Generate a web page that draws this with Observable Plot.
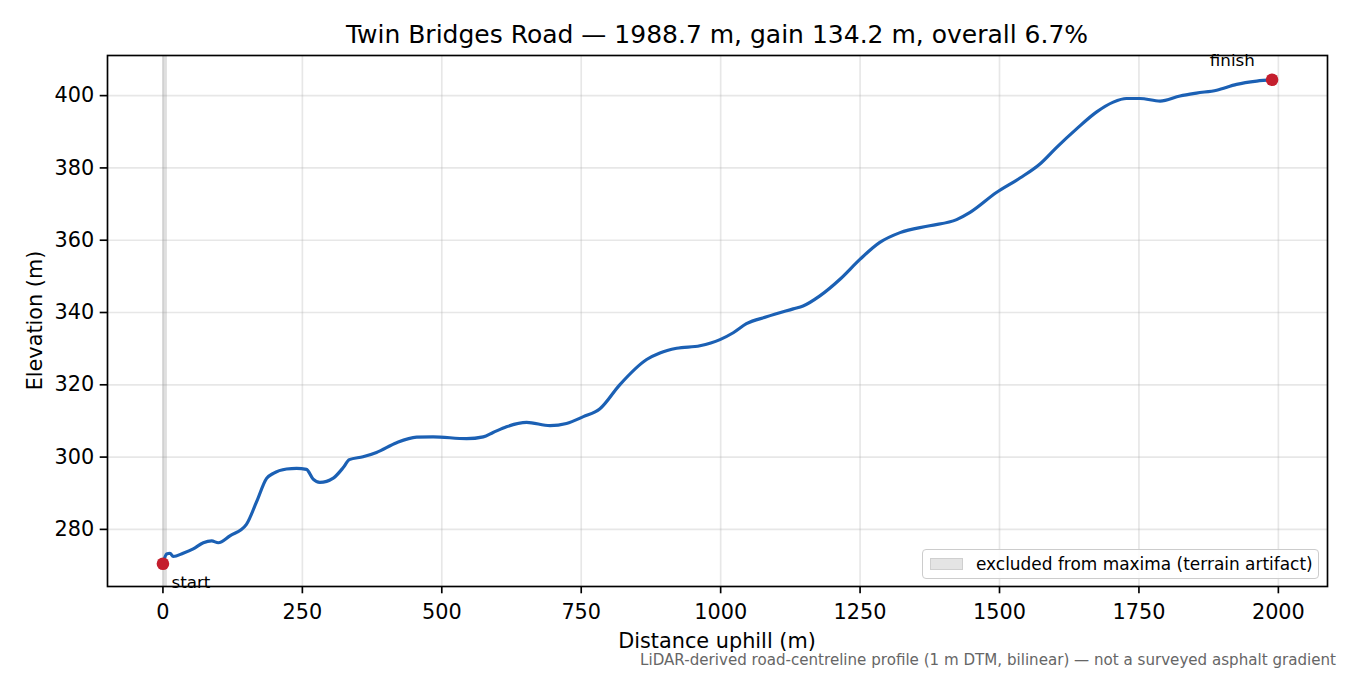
<!DOCTYPE html>
<html>
<head>
<meta charset="utf-8">
<script src="https://cdn.jsdelivr.net/npm/d3@7"></script>
<script src="https://cdn.jsdelivr.net/npm/@observablehq/plot@0.6"></script>
<style>
  html, body { margin: 0; padding: 0; background: #fff; }
  #wrap { position: relative; width: 1350px; height: 675px; font-family: "DejaVu Sans", sans-serif; }
  #legend { position: absolute; left: 922px; top: 549px; width: 397px; height: 30px; box-sizing: border-box;
            border: 1px solid #cccccc; border-radius: 4px; background: rgba(255,255,255,0.85);
            display: flex; align-items: center; font-size: 16.95px; color: #000; }
  #legend .sw { width: 33px; height: 12px; margin-left: 7px; margin-right: 13px; box-sizing: border-box;
                background: #e4e4e4; border: 1px solid #cfcfcf; flex: none; }
  #legend span { white-space: nowrap; }
</style>
</head>
<body>
<div id="wrap"></div>
<script>
// ---- data ----
const distance = [0, 6.6, 12.6, 18.5, 36.2, 54.3, 72.4, 87.4, 99.2, 120.1, 149.7, 167.8, 185.9, 198, 221.7, 239.7,
  257.3, 269.3, 281.4, 305.5, 323.3, 334.2, 358.8, 382.9, 419.1, 454.9, 484.4, 544.5, 574.4, 592, 616, 652.2,
  694, 723.6, 753.8, 783.6, 819, 867.3, 891.1, 921.1, 962.8, 998.8, 1022.6, 1046.2, 1082.4, 1130.1, 1147.7,
  1177.9, 1214, 1249.7, 1285.4, 1321.6, 1374.8, 1423.1, 1447.2, 1494.4, 1536.6, 1572.5, 1602.5, 1638.2,
  1674.3, 1704, 1727.6, 1751.7, 1787.9, 1823.6, 1853.2, 1889.4, 1925.1, 1961.3, 1988.7];
const elevation = [270.5, 273.2, 273.4, 272.5, 273.4, 274.6, 276.3, 276.8, 276.3, 278.2, 281.4, 287.6, 294.1, 295.5,
  296.7, 296.9, 296.6, 293.9, 293.0, 294.2, 297.1, 299.3, 300.1, 301.3, 304.0, 305.5, 305.6, 305.1, 305.6, 306.8,
  308.4, 309.6, 308.7, 309.3, 311.2, 313.4, 320.0, 327.0, 328.8, 330.1, 330.8, 332.5, 334.4, 336.9, 338.8, 341.0,
  341.8, 344.6, 349.2, 354.7, 359.4, 362.1, 364.0, 365.7, 367.7, 373.2, 377.2, 381.1, 385.7, 390.8, 395.5, 398.2,
  399.2, 399.2, 398.5, 399.9, 400.7, 401.5, 403.1, 404.0, 404.4];
const excludedFrom = [0];
const excludedTo = [8];
const endLabels = ["start", "finish"];
const xTicks = [0, 250, 500, 750, 1000, 1250, 1500, 1750, 2000];
const yTicks = [280, 300, 320, 340, 360, 380, 400];
const titleText = "Twin Bridges Road — 1988.7 m, gain 134.2 m, overall 6.7%";
const xLabel = "Distance uphill (m)";
const yLabel = "Elevation (m)";
const captionText = "LiDAR-derived road-centreline profile (1 m DTM, bilinear) — not a surveyed asphalt gradient";
const legendText = "excluded from maxima (terrain artifact)";

// ---- tables built from the arrays ----
const profile = distance.map((d, i) => ({d, e: elevation[i]}));
const excluded = excludedFrom.map((a, i) => ({a, b: excludedTo[i]}));
const n = distance.length - 1;
const startPt = [{d: distance[0], e: elevation[0], label: endLabels[0]}];
const finishPt = [{d: distance[n], e: elevation[n], label: endLabels[1]}];

const W = 1350, H = 675, ML = 107, MR = 23, MT = 55, MB = 89;
const gridStyle = {stroke: "#b0b0b0", strokeOpacity: 0.3, strokeWidth: 1.67};
const lineColor = "#1b60b4";
const dotColor = "#c41e2d";

const chart = Plot.plot({
  width: W, height: H,
  marginLeft: ML, marginRight: MR, marginTop: MT, marginBottom: MB,
  style: {fontFamily: "'DejaVu Sans', sans-serif", fontSize: "20.8px", color: "#000", background: "#fff"},
  x: {domain: [-99.4, 2088.1]},
  y: {domain: [264.2, 411.1]},
  marks: [
    Plot.gridX(xTicks, gridStyle),
    Plot.gridY(yTicks, gridStyle),
    Plot.rect(excluded, {x1: "a", x2: "b", fill: "#808080", fillOpacity: 0.25}),
    Plot.line(profile, {x: "d", y: "e", stroke: lineColor, strokeWidth: 3.2, curve: "monotone-x"}),
    Plot.dot([...startPt, ...finishPt], {x: "d", y: "e", r: 6.3, fill: dotColor}),
    Plot.text(startPt, {x: "d", y: "e", text: "label", textAnchor: "start", lineAnchor: "middle",
      dx: 8.5, dy: 18.5, fontSize: 16.7, fill: "#000"}),
    Plot.text(finishPt, {x: "d", y: "e", text: "label", textAnchor: "middle", lineAnchor: "middle",
      dx: -39.7, dy: -18.6, fontSize: 16.7, fill: "#000"}),
    Plot.axisX({ticks: xTicks, tickSize: 7.3, tickPadding: 10, fontSize: 20.8, strokeWidth: 1.67,
      tickFormat: d3.format("d"), label: null, fill: "#000", stroke: "#000"}),
    Plot.axisY({ticks: yTicks, tickSize: 7.3, tickPadding: 6, fontSize: 20.8, strokeWidth: 1.67,
      tickFormat: d3.format("d"), label: null, fill: "#000", stroke: "#000"}),
    Plot.frame({stroke: "#000", strokeWidth: 1.67})
  ]
});

const wrap = document.getElementById("wrap");
wrap.appendChild(chart);

// ---- titles and labels ----
const svg = d3.select(chart);
const cx = ML + (W - ML - MR) / 2;
const cy = MT + (H - MT - MB) / 2;
svg.append("text").attr("x", cx).attr("y", 42.5).attr("text-anchor", "middle")
  .attr("font-size", 25).attr("fill", "#000").text(titleText);
svg.append("text").attr("x", cx).attr("y", 647.5).attr("text-anchor", "middle")
  .attr("font-size", 20.8).attr("fill", "#000").text(xLabel);
svg.append("text").attr("transform", `translate(42,${cy}) rotate(-90)`).attr("text-anchor", "middle")
  .attr("font-size", 20.8).attr("fill", "#000").text(yLabel);
svg.append("text").attr("x", 1336).attr("y", 665).attr("text-anchor", "end")
  .attr("font-size", 15.1).attr("fill", "#666").text(captionText);

// ---- legend ----
const leg = document.createElement("div");
leg.id = "legend";
leg.innerHTML = `<div class="sw"></div><span>${legendText}</span>`;
wrap.appendChild(leg);
</script>
</body>
</html>
